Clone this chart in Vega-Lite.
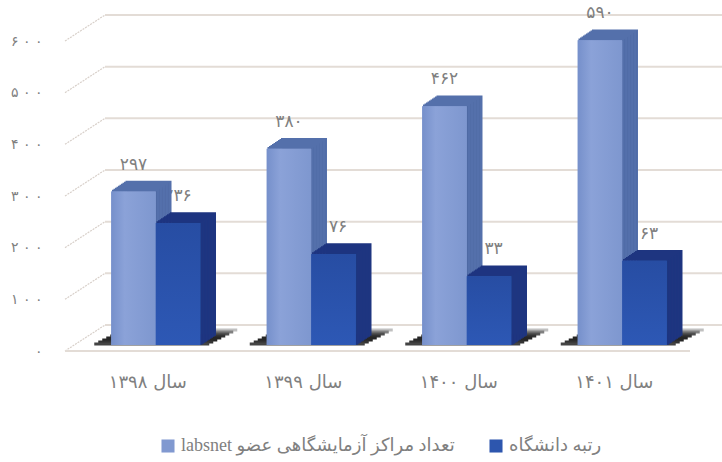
{"$schema":"https://vega.github.io/schema/vega-lite/v6.json","width":657,"height":310,"autosize":{"type":"none"},"padding":{"left":65,"top":41,"right":0,"bottom":111},"background":"white","config":{"view":{"stroke":null},"font":"DejaVu Sans"},"datasets":{"bars":[{"year":"سال ۱۳۹۸","s":"\u202Bتعداد مراکز آزمایشگاهی عضو labsnet\u202C","v":297,"t":"۲۹۷"},{"year":"سال ۱۳۹۹","s":"\u202Bتعداد مراکز آزمایشگاهی عضو labsnet\u202C","v":380,"t":"۳۸۰"},{"year":"سال ۱۴۰۰","s":"\u202Bتعداد مراکز آزمایشگاهی عضو labsnet\u202C","v":462,"t":"۴۶۲"},{"year":"سال ۱۴۰۱","s":"\u202Bتعداد مراکز آزمایشگاهی عضو labsnet\u202C","v":590,"t":"۵۹۰"},{"year":"سال ۱۳۹۸","s":"رتبه دانشگاه","v":236,"t":"۲۳۶"},{"year":"سال ۱۳۹۹","s":"رتبه دانشگاه","v":176,"t":"۱۷۶"},{"year":"سال ۱۴۰۰","s":"رتبه دانشگاه","v":133,"t":"۱۳۳"},{"year":"سال ۱۴۰۱","s":"رتبه دانشگاه","v":163,"t":"۱۶۳"}],"levels":[{"level":0},{"level":100},{"level":200},{"level":300},{"level":400},{"level":500},{"level":600}]},"layer":[{"data":{"name":"levels"},"layer":[{"mark":{"type":"rule","y2Offset":-26,"stroke":"#d8d0ca","strokeWidth":1.2,"strokeDash":[2,1]},"encoding":{"x":{"datum":0,"type":"quantitative","scale":{"domain":[0,657],"nice":false},"axis":null},"x2":{"datum":40},"y":{"field":"level","type":"quantitative","scale":{"domain":[0,600],"nice":false},"axis":{"title":null,"values":[0,100,200,300,400,500,600],"grid":false,"domain":false,"ticks":false,"labelPadding":23,"labelFontSize":14,"labelColor":"#808080","labelExpr":"['۰','۱ ۰ ۰','۲ ۰ ۰','۳ ۰ ۰','۴ ۰ ۰','۵ ۰ ۰','۶ ۰ ۰'][datum.value/100]"}},"y2":{"field":"level"}}},{"mark":{"type":"rule","yOffset":-26,"y2Offset":-26,"stroke":"#e3dcd6","strokeWidth":2},"encoding":{"x":{"datum":40,"type":"quantitative"},"x2":{"datum":657},"y":{"field":"level","type":"quantitative"},"y2":{"field":"level"}}},{"transform":[{"filter":"datum.level==0"}],"mark":{"type":"rule","stroke":"#e3dcd6","strokeWidth":2},"encoding":{"x":{"datum":0,"type":"quantitative"},"x2":{"datum":625},"y":{"field":"level","type":"quantitative"}}}]},{"data":{"name":"bars"},"encoding":{"x":{"field":"year","type":"nominal","sort":null,"title":null,"scale":{"range":[13,635],"paddingInner":0.4277,"paddingOuter":0.2139},"axis":{"orient":"bottom","domain":false,"ticks":false,"labelAngle":0,"labelOffset":-8,"labelPadding":22,"labelFontSize":18,"labelColor":"#808080"}},"y":{"field":"v","type":"quantitative","stack":null},"y2":{"datum":0}},"layer":[{"transform":[{"filter":"indexof(datum.s,'labsnet')>=0"}],"layer":[{"mark":{"type":"bar","width":115,"fill":"transparent","xOffset":24,"yOffset":-21,"y2Offset":-21,"strokeWidth":3,"stroke":"#c0c0c0"},"encoding":{"y":{"datum":0,"type":"quantitative"},"y2":{"datum":0}}},{"mark":{"type":"bar","width":115,"fill":"transparent","xOffset":20,"yOffset":-19,"y2Offset":-19,"strokeWidth":3,"stroke":"#808080"},"encoding":{"y":{"datum":0,"type":"quantitative"},"y2":{"datum":0}}},{"mark":{"type":"bar","width":115,"fill":"transparent","xOffset":16,"yOffset":-17,"y2Offset":-17,"strokeWidth":3,"stroke":"#505050"},"encoding":{"y":{"datum":0,"type":"quantitative"},"y2":{"datum":0}}},{"mark":{"type":"bar","width":115,"fill":"transparent","xOffset":12,"yOffset":-15,"y2Offset":-15,"strokeWidth":3,"stroke":"#333333"},"encoding":{"y":{"datum":0,"type":"quantitative"},"y2":{"datum":0}}},{"mark":{"type":"bar","width":115,"fill":"transparent","xOffset":8,"yOffset":-13,"y2Offset":-13,"strokeWidth":3,"stroke":"#262626"},"encoding":{"y":{"datum":0,"type":"quantitative"},"y2":{"datum":0}}},{"mark":{"type":"bar","width":115,"fill":"transparent","xOffset":4,"yOffset":-11,"y2Offset":-11,"strokeWidth":3,"stroke":"#262626"},"encoding":{"y":{"datum":0,"type":"quantitative"},"y2":{"datum":0}}},{"mark":{"type":"bar","width":115,"fill":"transparent","xOffset":0,"yOffset":-9,"y2Offset":-9,"strokeWidth":3,"stroke":"#333333"},"encoding":{"y":{"datum":0,"type":"quantitative"},"y2":{"datum":0}}},{"mark":{"type":"bar","width":115,"fill":"transparent","xOffset":-4,"yOffset":-7,"y2Offset":-7,"strokeWidth":3,"stroke":"#444444"},"encoding":{"y":{"datum":0,"type":"quantitative"},"y2":{"datum":0}}}]},{"layer":[{"mark":{"type":"text","fontSize":17,"yOffset":-33,"color":"#808080","xOffset":{"expr":"indexof(datum.s,'labsnet')>=0?-22.25:22.25"}},"encoding":{"text":{"field":"t"},"y2":null}},{"mark":{"type":"bar","width":44.5,"xOffset":{"expr":"(indexof(datum.s,'labsnet')>=0?-22.25:22.25)+15"},"yOffset":-16,"y2Offset":-16},"encoding":{"fill":{"condition":{"test":"indexof(datum.s,'labsnet')>=0","value":"#4a659f"},"value":"#1b3a83"}}},{"mark":{"type":"bar","width":44.5,"xOffset":{"expr":"(indexof(datum.s,'labsnet')>=0?-22.25:22.25)+13.5"},"yOffset":-15,"y2Offset":-15},"encoding":{"fill":{"condition":{"test":"indexof(datum.s,'labsnet')>=0","value":"#4a659f"},"value":"#1b3a83"}}},{"mark":{"type":"bar","width":44.5,"xOffset":{"expr":"(indexof(datum.s,'labsnet')>=0?-22.25:22.25)+12"},"yOffset":-14,"y2Offset":-14},"encoding":{"fill":{"condition":{"test":"indexof(datum.s,'labsnet')>=0","value":"#4a659f"},"value":"#1b3a83"}}},{"mark":{"type":"bar","width":44.5,"xOffset":{"expr":"(indexof(datum.s,'labsnet')>=0?-22.25:22.25)+10.5"},"yOffset":-13,"y2Offset":-13},"encoding":{"fill":{"condition":{"test":"indexof(datum.s,'labsnet')>=0","value":"#4a659f"},"value":"#1b3a83"}}},{"mark":{"type":"bar","width":44.5,"xOffset":{"expr":"(indexof(datum.s,'labsnet')>=0?-22.25:22.25)+9"},"yOffset":-12,"y2Offset":-12},"encoding":{"fill":{"condition":{"test":"indexof(datum.s,'labsnet')>=0","value":"#4a659f"},"value":"#1b3a83"}}},{"mark":{"type":"bar","width":44.5,"xOffset":{"expr":"(indexof(datum.s,'labsnet')>=0?-22.25:22.25)+7.5"},"yOffset":-11,"y2Offset":-11},"encoding":{"fill":{"condition":{"test":"indexof(datum.s,'labsnet')>=0","value":"#4a659f"},"value":"#1b3a83"}}},{"mark":{"type":"bar","width":44.5,"xOffset":{"expr":"(indexof(datum.s,'labsnet')>=0?-22.25:22.25)+6"},"yOffset":-10,"y2Offset":-10},"encoding":{"fill":{"condition":{"test":"indexof(datum.s,'labsnet')>=0","value":"#4a659f"},"value":"#1b3a83"}}},{"mark":{"type":"bar","width":44.5,"xOffset":{"expr":"(indexof(datum.s,'labsnet')>=0?-22.25:22.25)+4.5"},"yOffset":-9,"y2Offset":-9},"encoding":{"fill":{"condition":{"test":"indexof(datum.s,'labsnet')>=0","value":"#4a659f"},"value":"#1b3a83"}}},{"mark":{"type":"bar","width":44.5,"xOffset":{"expr":"(indexof(datum.s,'labsnet')>=0?-22.25:22.25)+3"},"yOffset":-8,"y2Offset":-8},"encoding":{"fill":{"condition":{"test":"indexof(datum.s,'labsnet')>=0","value":"#4a659f"},"value":"#1b3a83"}}},{"mark":{"type":"bar","width":44.5,"xOffset":{"expr":"(indexof(datum.s,'labsnet')>=0?-22.25:22.25)+1.5"},"yOffset":-7,"y2Offset":-7},"encoding":{"fill":{"condition":{"test":"indexof(datum.s,'labsnet')>=0","value":"#4a659f"},"value":"#1b3a83"}}},{"mark":{"type":"bar","width":44.5,"fill":"transparent","strokeWidth":1.5,"xOffset":{"expr":"(indexof(datum.s,'labsnet')>=0?-22.25:22.25)+15"},"yOffset":-16,"y2Offset":-16},"encoding":{"y2":{"field":"v"},"stroke":{"condition":{"test":"indexof(datum.s,'labsnet')>=0","value":"#5470ab"},"value":"#1e3580"}}},{"mark":{"type":"bar","width":44.5,"fill":"transparent","strokeWidth":1.5,"xOffset":{"expr":"(indexof(datum.s,'labsnet')>=0?-22.25:22.25)+13.5"},"yOffset":-15,"y2Offset":-15},"encoding":{"y2":{"field":"v"},"stroke":{"condition":{"test":"indexof(datum.s,'labsnet')>=0","value":"#5470ab"},"value":"#1e3580"}}},{"mark":{"type":"bar","width":44.5,"fill":"transparent","strokeWidth":1.5,"xOffset":{"expr":"(indexof(datum.s,'labsnet')>=0?-22.25:22.25)+12"},"yOffset":-14,"y2Offset":-14},"encoding":{"y2":{"field":"v"},"stroke":{"condition":{"test":"indexof(datum.s,'labsnet')>=0","value":"#5470ab"},"value":"#1e3580"}}},{"mark":{"type":"bar","width":44.5,"fill":"transparent","strokeWidth":1.5,"xOffset":{"expr":"(indexof(datum.s,'labsnet')>=0?-22.25:22.25)+10.5"},"yOffset":-13,"y2Offset":-13},"encoding":{"y2":{"field":"v"},"stroke":{"condition":{"test":"indexof(datum.s,'labsnet')>=0","value":"#5470ab"},"value":"#1e3580"}}},{"mark":{"type":"bar","width":44.5,"fill":"transparent","strokeWidth":1.5,"xOffset":{"expr":"(indexof(datum.s,'labsnet')>=0?-22.25:22.25)+9"},"yOffset":-12,"y2Offset":-12},"encoding":{"y2":{"field":"v"},"stroke":{"condition":{"test":"indexof(datum.s,'labsnet')>=0","value":"#5470ab"},"value":"#1e3580"}}},{"mark":{"type":"bar","width":44.5,"fill":"transparent","strokeWidth":1.5,"xOffset":{"expr":"(indexof(datum.s,'labsnet')>=0?-22.25:22.25)+7.5"},"yOffset":-11,"y2Offset":-11},"encoding":{"y2":{"field":"v"},"stroke":{"condition":{"test":"indexof(datum.s,'labsnet')>=0","value":"#5470ab"},"value":"#1e3580"}}},{"mark":{"type":"bar","width":44.5,"fill":"transparent","strokeWidth":1.5,"xOffset":{"expr":"(indexof(datum.s,'labsnet')>=0?-22.25:22.25)+6"},"yOffset":-10,"y2Offset":-10},"encoding":{"y2":{"field":"v"},"stroke":{"condition":{"test":"indexof(datum.s,'labsnet')>=0","value":"#5470ab"},"value":"#1e3580"}}},{"mark":{"type":"bar","width":44.5,"fill":"transparent","strokeWidth":1.5,"xOffset":{"expr":"(indexof(datum.s,'labsnet')>=0?-22.25:22.25)+4.5"},"yOffset":-9,"y2Offset":-9},"encoding":{"y2":{"field":"v"},"stroke":{"condition":{"test":"indexof(datum.s,'labsnet')>=0","value":"#5470ab"},"value":"#1e3580"}}},{"mark":{"type":"bar","width":44.5,"fill":"transparent","strokeWidth":1.5,"xOffset":{"expr":"(indexof(datum.s,'labsnet')>=0?-22.25:22.25)+3"},"yOffset":-8,"y2Offset":-8},"encoding":{"y2":{"field":"v"},"stroke":{"condition":{"test":"indexof(datum.s,'labsnet')>=0","value":"#5470ab"},"value":"#1e3580"}}},{"mark":{"type":"bar","width":44.5,"fill":"transparent","strokeWidth":1.5,"xOffset":{"expr":"(indexof(datum.s,'labsnet')>=0?-22.25:22.25)+1.5"},"yOffset":-7,"y2Offset":-7},"encoding":{"y2":{"field":"v"},"stroke":{"condition":{"test":"indexof(datum.s,'labsnet')>=0","value":"#5470ab"},"value":"#1e3580"}}},{"mark":{"type":"bar","width":44.5,"xOffset":{"expr":"indexof(datum.s,'labsnet')>=0?-22.25:22.25"},"yOffset":-6,"y2Offset":-6},"encoding":{"color":{"field":"s","type":"nominal","sort":null,"scale":{"range":["#8199d0","#2d56ae"]},"legend":{"title":null,"orient":"none","legendX":94,"legendY":396,"direction":"horizontal","columns":2,"columnPadding":32,"symbolType":"square","symbolSize":170,"symbolStrokeWidth":0,"symbolOpacity":1,"labelFontSize":18,"labelFont":"Liberation Serif, DejaVu Sans","labelColor":"#808080","labelLimit":400}}}},{"mark":{"type":"bar","width":44.5,"xOffset":{"expr":"indexof(datum.s,'labsnet')>=0?-22.25:22.25"},"yOffset":-6,"y2Offset":-6},"encoding":{"fill":{"condition":{"test":"indexof(datum.s,'labsnet')>=0","value":{"gradient":"linear","x1":0,"y1":0,"x2":1,"y2":0,"stops":[{"offset":0,"color":"#7690cb"},{"offset":0.3,"color":"#8ba2d8"},{"offset":1,"color":"#7e97cf"}]}},"value":{"gradient":"linear","x1":0,"y1":0,"x2":0,"y2":1,"stops":[{"offset":0,"color":"#274da3"},{"offset":1,"color":"#2d58b5"}]}}}}]}]}],"resolve":{"scale":{"x":"independent"}}}
